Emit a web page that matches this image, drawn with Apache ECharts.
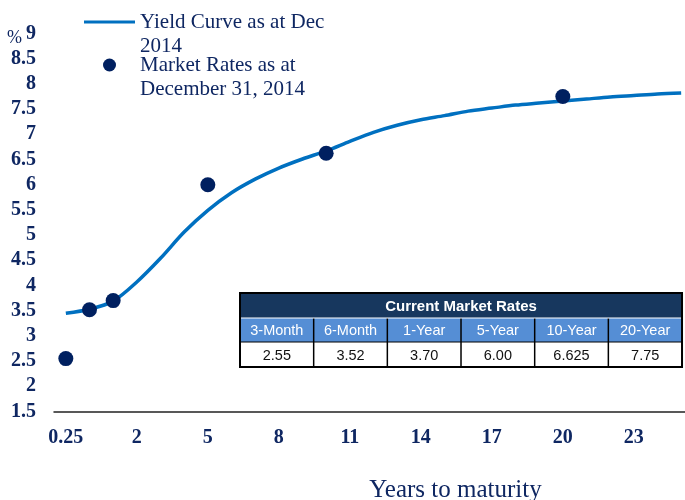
<!DOCTYPE html>
<html>
<head>
<meta charset="utf-8">
<script src="https://cdn.jsdelivr.net/npm/echarts@6/dist/echarts.min.js"></script>
<style>
    html, body { margin: 0; padding: 0; background: #fff; }
    #chart { width: 685px; height: 500px; }
</style>
</head>
<body>
<div id="chart"></div>
<script>
// maturities on the x axis (one category each)
const maturities = ['0.25', '0.5', '1', '2', '3', '4', '5', '6', '7', '8', '9', '10', '11', '12', '13',
    '14', '15', '16', '17', '18', '19', '20', '21', '22', '23', '24', '25']
// yield curve, one value per maturity
const curveValues = [3.45, 3.53, 3.69, 4.07, 4.54, 5.06, 5.49, 5.84, 6.11, 6.33, 6.51, 6.67, 6.86,
    7.04, 7.18, 7.29, 7.37, 7.46, 7.52, 7.58, 7.62, 7.66, 7.70, 7.74, 7.77, 7.80, 7.82]
// market rates
const marketTerms = ['0.25', '0.5', '1', '5', '10', '20']
const marketRates = [2.55, 3.52, 3.70, 6.00, 6.625, 7.75]

// table in the plot
const tableTitle = 'Current Market Rates'
const tableHeaders = ['3-Month', '6-Month', '1-Year', '5-Year', '10-Year', '20-Year']
const tableValues = ['2.55', '3.52', '3.70', '6.00', '6.625', '7.75']

const NAVY = '#002060'
const TEXT = '#0f2762'
const SERIF = '"Liberation Serif", "Times New Roman", serif'
const SANS = '"Liberation Sans", Arial, sans-serif'

const chart = echarts.init(document.getElementById('chart'))

// table drawn as graphic elements
function buildTable() {
    const left = 240
    const top = 293
    const colW = 73.67
    const rowH = [25, 24, 25]
    const width = colW * tableHeaders.length
    const height = rowH[0] + rowH[1] + rowH[2]
    const els = []
    // rows
    els.push({ type: 'rect', shape: { x: left, y: top, width: width, height: rowH[0] }, style: { fill: '#17375e' } })
    els.push({ type: 'rect', shape: { x: left, y: top + rowH[0], width: width, height: rowH[1] }, style: { fill: '#558ed5' } })
    els.push({ type: 'rect', shape: { x: left, y: top + rowH[0] + rowH[1], width: width, height: rowH[2] }, style: { fill: '#fff' } })
    els.push({
        type: 'text',
        style: {
            text: tableTitle, x: left + width / 2, y: top + rowH[0] / 2 + 1,
            align: 'center', verticalAlign: 'middle',
            fill: '#fff', font: 'bold 15px ' + SANS,
        },
    })
    tableHeaders.forEach((h, i) => {
        const cx = left + colW * i + colW / 2
        els.push({
            type: 'text',
            style: {
                text: h, x: cx, y: top + rowH[0] + rowH[1] / 2 + 1,
                align: 'center', verticalAlign: 'middle',
                fill: '#fff', font: '14.5px ' + SANS,
            },
        })
        els.push({
            type: 'text',
            style: {
                text: tableValues[i], x: cx, y: top + rowH[0] + rowH[1] + rowH[2] / 2 + 1,
                align: 'center', verticalAlign: 'middle',
                fill: '#111', font: '14.5px ' + SANS,
            },
        })
        if (i > 0) {
            const lx = left + colW * i
            els.push({
                type: 'line',
                shape: { x1: lx, y1: top + rowH[0], x2: lx, y2: top + height },
                style: { stroke: '#000', lineWidth: 1.5 },
            })
        }
    })
    els.push({
        type: 'line',
        shape: { x1: left, y1: top + rowH[0], x2: left + width, y2: top + rowH[0] },
        style: { stroke: '#fff', lineWidth: 1 },
    })
    els.push({
        type: 'line',
        shape: { x1: left, y1: top + rowH[0] + rowH[1], x2: left + width, y2: top + rowH[0] + rowH[1] },
        style: { stroke: '#000', lineWidth: 1 },
    })
    els.push({
        type: 'rect',
        shape: { x: left, y: top, width: width, height: height },
        style: { fill: 'none', stroke: '#000', lineWidth: 2 },
    })
    return els
}

const option = {
    animation: false,
    backgroundColor: '#fff',
    grid: {
        left: 54,
        right: -8,
        top: 33.5,
        bottom: 88.5,
        containLabel: false,
        outerBoundsMode: 'none',
    },
    legend: {
        orient: 'vertical',
        left: 79,
        top: -19,
        itemWidth: 51,
        itemHeight: 13,
        itemGap: -29,
        // blank first line so the icon sits next to the first text line
        formatter: (name) => '\u00a0\n' + name,
        textStyle: {
            color: TEXT,
            fontFamily: SERIF,
            fontSize: 21,
            lineHeight: 24,
        },
        data: [
            { name: 'Yield Curve as at Dec\n2014', icon: 'path://M0,0 L50,0 L50,3 L0,3 Z' },
            { name: 'Market Rates as at\nDecember 31, 2014', icon: 'circle' },
        ],
    },
    xAxis: {
        type: 'category',
        data: maturities,
        boundaryGap: true,
        name: 'Years to maturity',
        nameLocation: 'middle',
        nameGap: 66,
        nameTextStyle: {
            color: TEXT,
            fontFamily: SERIF,
            fontSize: 25,
            padding: [0, 0, 0, 164],
        },
        axisLine: { lineStyle: { color: '#222', width: 1.5 } },
        axisTick: { show: false },
        axisLabel: {
            interval: 2,
            margin: 16,
            color: TEXT,
            fontFamily: SERIF,
            fontWeight: 'bold',
            fontSize: 20,
        },
    },
    yAxis: {
        type: 'value',
        min: 1.5,
        max: 9,
        interval: 0.5,
        name: '%',
        nameLocation: 'end',
        nameGap: -5,
        nameMoveOverlap: false,
        nameTextStyle: {
            color: TEXT,
            fontFamily: SERIF,
            fontSize: 18,
            align: 'right',
            verticalAlign: 'middle',
            padding: [0, 32, 0, 0],
        },
        axisLine: { show: false },
        axisTick: { show: false },
        splitLine: { show: false },
        axisLabel: {
            margin: 18,
            color: TEXT,
            fontFamily: SERIF,
            fontWeight: 'bold',
            fontSize: 20,
        },
    },
    series: [
        {
            name: 'Yield Curve as at Dec\n2014',
            type: 'line',
            data: curveValues,
            smooth: 0.3,
            symbol: 'none',
            lineStyle: { color: '#0070c0', width: 3.5 },
            itemStyle: { color: '#0070c0' },
            z: 2,
        },
        {
            name: 'Market Rates as at\nDecember 31, 2014',
            type: 'scatter',
            data: marketTerms.map((t, i) => [t, marketRates[i]]),
            symbolSize: 15,
            itemStyle: { color: NAVY, opacity: 1 },
            z: 3,
        },
    ],
    graphic: buildTable(),
}

chart.setOption(option)
</script>
</body>
</html>
